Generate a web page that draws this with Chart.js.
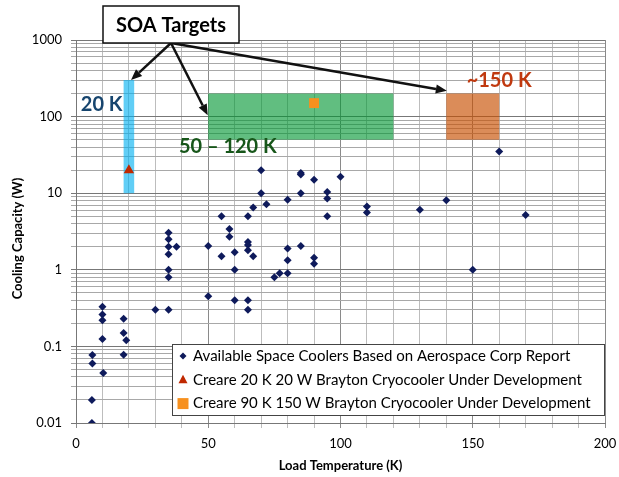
<!DOCTYPE html>
<html>
<head>
<meta charset="utf-8">
<script src="https://cdn.jsdelivr.net/npm/chart.js@4.4.1/dist/chart.umd.min.js"></script>
<style>
  html, body { margin: 0; padding: 0; background: #fff; }
  #chart { display: block; }
</style>
</head>
<body>
<canvas id="chart" width="619" height="477"></canvas>
<script>
// Available space coolers (Aerospace Corp report)
const coolerTemps = [6, 6, 6.2, 6.2, 10, 10, 10, 10, 10.3, 18, 18, 19, 18, 30, 35,
  35, 35, 35, 35, 38, 35, 35, 50, 50, 55, 55, 58, 58, 60, 60, 60,
  65, 65, 65, 65, 65, 65, 67, 67, 70, 70, 72, 75, 77, 80, 80, 80, 80,
  85, 85, 85, 85, 90, 90, 90, 95, 95, 95, 100, 110, 110, 130, 140, 150, 160, 170];
const coolerCaps = [0.01, 0.02, 0.06, 0.077, 0.33, 0.26, 0.22, 0.125, 0.045, 0.23, 0.15, 0.12, 0.078, 0.3, 0.3,
  3.05, 2.5, 2.0, 1.6, 2.0, 1.0, 0.8, 2.05, 0.45, 5, 1.5, 3.4, 2.7, 1.7, 1.0, 0.4,
  5, 2.3, 2.1, 1.8, 0.4, 0.3, 6.5, 1.5, 20, 10, 7.2, 0.8, 0.9, 8.2, 1.9, 1.33, 0.9,
  18.3, 17.5, 10, 2.05, 15, 1.44, 1.2, 10.4, 8.5, 5, 16.4, 6.7, 5.6, 6.1, 8.1, 1.0, 35, 5.2];

// Creare Brayton cryocoolers under development
const creare20Temps = [20];
const creare20Caps = [20];
const creare90Temps = [90];
const creare90Caps = [150];

const seriesLabels = [
  'Available Space Coolers Based on Aerospace Corp Report',
  'Creare 20 K 20 W Brayton Cryocooler Under Development',
  'Creare 90 K 150 W Brayton Cryocooler Under Development'
];

const xTickLabels = [0, 50, 100, 150, 200];
const yTickLabels = [0.01, 0.1, 1, 10, 100, 1000];

// SOA target bands
const bandLabels = ['20 K', '50 – 120 K', '~150 K'];
const bandTempMin = [18, 50, 140];
const bandTempMax = [22, 120, 160];
const bandCapMin = [10, 50, 50];
const bandCapMax = [300, 200, 200];

const FONT = 'Lato, "Open Sans", sans-serif';
const bandColors = ['rgba(0,176,240,0.62)', 'rgba(0,150,50,0.62)', 'rgba(200,78,0,0.65)'];
const bandTextColors = ['#17456E', '#17561A', '#C0390F'];
// where the band labels and arrow tips sit, in data units
const bandLabelAt = [[17.6, 119, 'right'], [38.9, 33, 'left'], [147.7, 245, 'left']];
const arrowTipAt = [[20.8, 300], [49.8, 104], [140.2, 217]];

const toPoints = (xs, ys) => xs.map((x, i) => ({x: x, y: ys[i]}));

const pointColors = ['#0E1A5B', '#C02800', '#F7901E'];

const drawArrow = (ctx, x0, y0, x1, y1) => {
  const ang = Math.atan2(y1 - y0, x1 - x0);
  const head = 11, half = 4.5;
  const bx = x1 - head * Math.cos(ang), by = y1 - head * Math.sin(ang);
  ctx.beginPath();
  ctx.moveTo(x0, y0);
  ctx.lineTo(bx, by);
  ctx.stroke();
  ctx.beginPath();
  ctx.moveTo(x1, y1);
  ctx.lineTo(bx + half * Math.sin(ang), by - half * Math.cos(ang));
  ctx.lineTo(bx - half * Math.sin(ang), by + half * Math.cos(ang));
  ctx.closePath();
  ctx.fill();
}

const markerShapes = (ctx, idx, cx, cy) => {
  ctx.fillStyle = pointColors[idx];
  ctx.beginPath();
  if (idx === 0) {
    ctx.moveTo(cx, cy - 3.5); ctx.lineTo(cx + 3.5, cy); ctx.lineTo(cx, cy + 3.5); ctx.lineTo(cx - 3.5, cy);
  } else if (idx === 1) {
    ctx.moveTo(cx, cy - 5); ctx.lineTo(cx + 4.5, cy + 3.5); ctx.lineTo(cx - 4.5, cy + 3.5);
  } else {
    ctx.rect(cx - 5.5, cy - 5.5, 11, 11);
  }
  ctx.closePath();
  ctx.fill();
}

const soaPlugin = {
  id: 'soa',
  beforeDatasetsDraw(chart) {
    const {ctx, scales: {x, y}} = chart;
    ctx.save();
    bandLabels.forEach((lbl, i) => {
      const l = x.getPixelForValue(bandTempMin[i]);
      const r = x.getPixelForValue(bandTempMax[i]);
      const t = y.getPixelForValue(bandCapMax[i]);
      const b = y.getPixelForValue(bandCapMin[i]);
      ctx.fillStyle = bandColors[i];
      ctx.fillRect(l, t, r - l, b - t);
    });
    ctx.restore();
  },
  afterDraw(chart) {
    const {ctx, scales: {x, y}, chartArea} = chart;
    ctx.save();

    // band labels
    ctx.font = 'bold 20px ' + FONT;
    ctx.textBaseline = 'alphabetic';
    bandLabels.forEach((lbl, i) => {
      ctx.fillStyle = bandTextColors[i];
      ctx.textAlign = bandLabelAt[i][2];
      ctx.fillText(lbl, x.getPixelForValue(bandLabelAt[i][0]), y.getPixelForValue(bandLabelAt[i][1]));
    });

    // "SOA Targets" callout + arrows
    const bx = 103, by = 6, bw = 136, bh = 37;
    const ox = bx + bw / 2, oy = by + bh;
    ctx.strokeStyle = '#111';
    ctx.fillStyle = '#111';
    ctx.lineWidth = 2.5;
    arrowTipAt.forEach((p) => {
      drawArrow(ctx, ox, oy, x.getPixelForValue(p[0]), y.getPixelForValue(p[1]));
    });
    ctx.fillStyle = '#fff';
    ctx.fillRect(bx, by, bw, bh);
    ctx.lineWidth = 1.5;
    ctx.strokeRect(bx, by, bw, bh);
    ctx.fillStyle = '#000';
    ctx.font = 'bold 20px ' + FONT;
    ctx.textAlign = 'center';
    ctx.textBaseline = 'middle';
    ctx.fillText('SOA Targets', ox, by + bh / 2 + 1);

    // legend
    const lx = 172, ly = 344, lw = 432, lh = 71;
    ctx.fillStyle = '#fff';
    ctx.fillRect(lx, ly, lw, lh);
    ctx.strokeStyle = '#444';
    ctx.lineWidth = 1;
    ctx.strokeRect(lx + 0.5, ly + 0.5, lw, lh);
    ctx.font = '15px ' + FONT;
    ctx.textAlign = 'left';
    ctx.textBaseline = 'middle';
    seriesLabels.forEach((lbl, i) => {
      const cy = ly + 12 + i * 23.8;
      markerShapes(ctx, i, 183, cy);
      ctx.fillStyle = '#000';
      ctx.fillText(lbl, 193, cy);
    });

    // axis titles
    ctx.fillStyle = '#000';
    ctx.font = 'bold 13px ' + FONT;
    ctx.textAlign = 'center';
    ctx.textBaseline = 'middle';
    ctx.fillText('Load Temperature (K)', (chartArea.left + chartArea.right) / 2, 466);
    ctx.translate(18, (chartArea.top + chartArea.bottom) / 2 + 7);
    ctx.rotate(-Math.PI / 2);
    ctx.fillText('Cooling Capacity (W)', 0, 0);
    ctx.restore();
  }
};

const ctx = document.getElementById('chart').getContext('2d');
new Chart(ctx, {
  type: 'scatter',
  data: {
    datasets: [
      {
        label: seriesLabels[1],
        data: toPoints(creare20Temps, creare20Caps),
        pointStyle: 'triangle',
        pointRadius: 6,
        backgroundColor: pointColors[1],
        borderColor: pointColors[1],
        borderWidth: 0
      },
      {
        label: seriesLabels[2],
        data: toPoints(creare90Temps, creare90Caps),
        pointStyle: 'rect',
        pointRadius: 7,
        backgroundColor: pointColors[2],
        borderColor: pointColors[2],
        borderWidth: 0
      },
      {
        label: seriesLabels[0],
        data: toPoints(coolerTemps, coolerCaps),
        pointStyle: 'rectRot',
        pointRadius: 4,
        backgroundColor: pointColors[0],
        borderColor: pointColors[0],
        borderWidth: 0
      }
    ]
  },
  options: {
    responsive: false,
    devicePixelRatio: 1,
    animation: false,
    layout: {padding: {top: 40, right: 14, bottom: 0, left: 0}},
    plugins: {
      legend: {display: false},
      tooltip: {enabled: false}
    },
    scales: {
      x: {
        type: 'linear',
        min: 0,
        max: 200,
        afterFit: (s) => { s.height = 54; s.paddingLeft = 0; s.paddingRight = 0; },
        ticks: {
          stepSize: 10,
          autoSkip: false,
          maxRotation: 0,
          padding: 8,
          color: '#000',
          font: {family: FONT, size: 13},
          callback: (v) => xTickLabels.includes(v) ? String(v) : ''
        },
        grid: {
          tickLength: 5,
          color: (c) => (c.tick && c.tick.value % 50 === 0) ? '#8a8a8a' : '#bdbdbd'
        },
        border: {color: '#777'}
      },
      y: {
        type: 'logarithmic',
        min: 0.01,
        max: 1000,
        afterBuildTicks: (scale) => {
          const ticks = [];
          for (let e = -2; e <= 3; e++) {
            for (let m = 1; m <= 9; m++) {
              const v = +(m * Math.pow(10, e)).toPrecision(3);
              if (v > 1000) break;
              ticks.push({value: v, major: m === 1});
            }
          }
          scale.ticks = ticks;
        },
        afterFit: (s) => { s.width = 76; s.paddingTop = 0; s.paddingBottom = 0; },
        ticks: {
          autoSkip: false,
          padding: 9,
          color: '#000',
          font: {family: FONT, size: 13},
          callback: (v) => yTickLabels.includes(v) ? String(v) : ''
        },
        grid: {
          tickLength: 5,
          color: (c) => (c.tick && c.tick.major) ? '#777' : '#a8a8a8'
        },
        border: {color: '#777'}
      }
    }
  },
  plugins: [soaPlugin]
});
</script>
</body>
</html>
